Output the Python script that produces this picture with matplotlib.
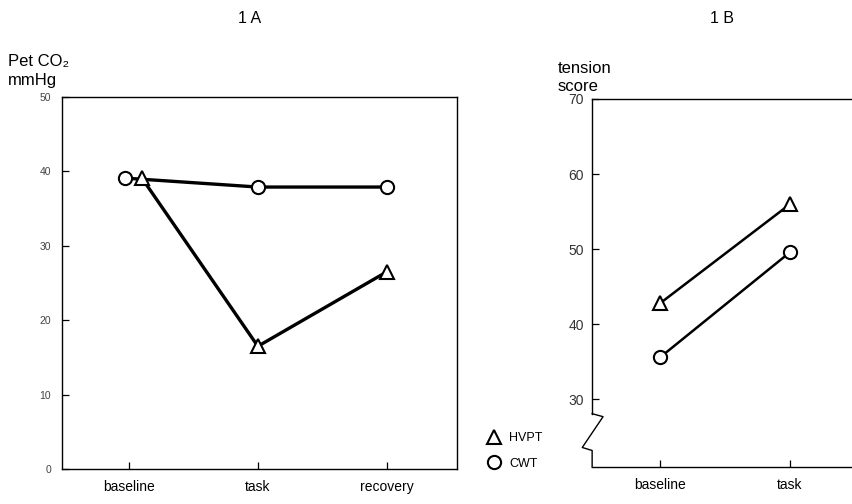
import matplotlib.pyplot as plt

plt.rcParams['font.family'] = ['Liberation Sans', 'DejaVu Sans']

# panel 1A: Pet CO2 (mmHg)
phases_a = ['baseline', 'task', 'recovery']
hvpt_co2 = [39.1, 16.5, 26.5]
cwt_co2 = [39.1, 37.9, 37.9]

# panel 1B: tension score
phases_b = ['baseline', 'task']
hvpt_tension = [42.8, 56.0]
cwt_tension = [35.6, 49.6]

ticks_a = [0, 10, 20, 30, 40, 50]
ticks_b = [30, 40, 50, 60, 70]

fig = plt.figure(figsize=(8.52, 5.04), dpi=100)
ax1 = fig.add_axes([0.0728, 0.0694, 0.4632, 0.7381])
ax2 = fig.add_axes([0.695, 0.0734, 0.305, 0.7302])

mk = dict(markerfacecolor='white', markeredgecolor='black', markeredgewidth=1.5, color='black')

# baseline points are slightly shifted apart in the original
xa = list(range(len(phases_a)))
xa_h = [x + (0.1 if i == 0 else 0) for i, x in enumerate(xa)]
xa_c = [x + (-0.03 if i == 0 else 0) for i, x in enumerate(xa)]
ax1.plot(xa_c, cwt_co2, marker='o', ms=9.5, lw=2.4, **mk)
ax1.plot(xa_h, hvpt_co2, marker='^', ms=10.5, lw=2.4, **mk)
ax1.set_xlim(-0.52, 2.543)
ax1.set_ylim(0, 50)
ax1.set_xticks(xa)
ax1.set_xticklabels(phases_a, fontsize=10)
ax1.set_yticks(ticks_a)
ax1.set_yticklabels([str(t) for t in ticks_a], fontsize=7.5, color='#444444')
ax1.tick_params(direction='in', length=5, width=0.9)
ax1.tick_params(axis='x', pad=8)
ax1.tick_params(axis='y', pad=8)
for s in ax1.spines.values():
    s.set_linewidth(1.0)

xb = list(range(len(phases_b)))
h_line, = ax2.plot(xb, hvpt_tension, marker='^', ms=10.5, lw=1.8, **mk)
c_line, = ax2.plot(xb, cwt_tension, marker='o', ms=9.5, lw=1.8, **mk)
ax2.set_xlim(-0.523, 1.477)
ax2.set_ylim(21, 70)
ax2.set_xticks(xb)
ax2.set_xticklabels(phases_b, fontsize=10)
ax2.set_yticks(ticks_b)
ax2.set_yticklabels([str(t) for t in ticks_b], fontsize=10, color='#333333')
ax2.tick_params(direction='in', length=5, width=0.9)
ax2.tick_params(axis='x', pad=8)
ax2.tick_params(axis='y', pad=6)
ax2.spines['right'].set_visible(False)
for s in ax2.spines.values():
    s.set_linewidth(1.0)
# axis break on left spine
ax2.spines['left'].set_bounds(28.1, 70)
tr = ax2.get_yaxis_transform()
ax2.plot([0, 0.042, -0.038, 0, 0], [28.1, 27.7, 23.6, 23.2, 21], color='black', lw=1.0,
         transform=tr, clip_on=False)

ax2.legend([h_line, c_line], ['HVPT', 'CWT'], loc='upper left', frameon=False,
           bbox_to_anchor=(0.574, 0.152), bbox_transform=fig.transFigure,
           handlelength=0, handletextpad=1.2, labelspacing=1.05, fontsize=9,
           numpoints=1, borderaxespad=0)

fig.text(0.293, 0.963, '1 A', ha='center', va='center', fontsize=11.5)
fig.text(0.847, 0.963, '1 B', ha='center', va='center', fontsize=11.5)
fig.text(0.009, 0.877, 'Pet CO\u2082', ha='left', va='center', fontsize=12)
fig.text(0.009, 0.841, 'mmHg', ha='left', va='center', fontsize=12)
fig.text(0.655, 0.865, 'tension', ha='left', va='center', fontsize=12)
fig.text(0.655, 0.829, 'score', ha='left', va='center', fontsize=12)

fig.savefig('out.png', dpi=100)
